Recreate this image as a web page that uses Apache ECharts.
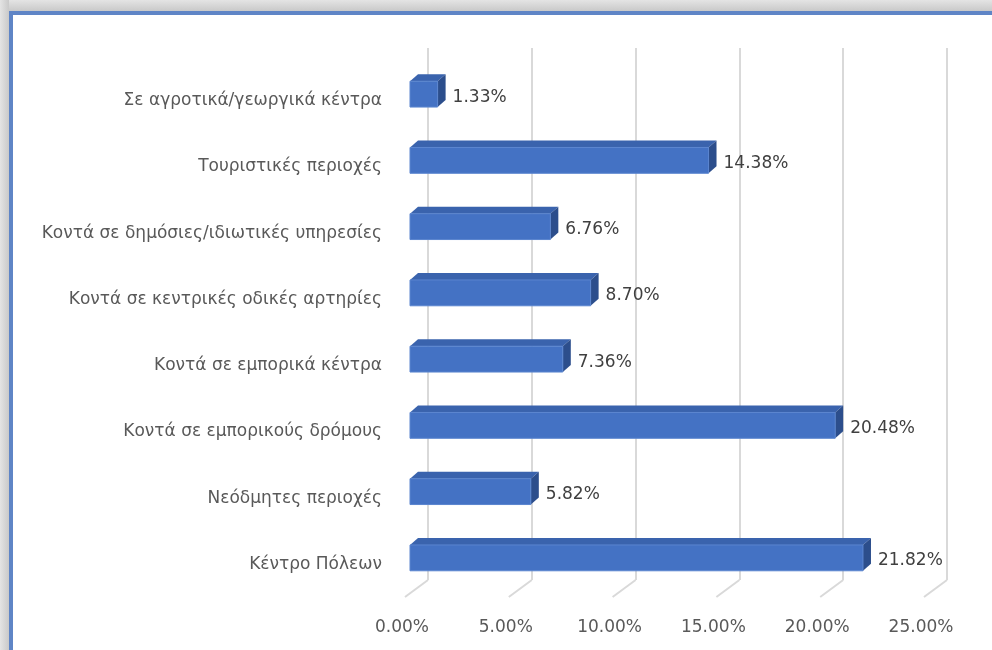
<!DOCTYPE html>
<html>
<head>
<meta charset="utf-8">
<script src="https://cdn.jsdelivr.net/npm/echarts@6/dist/echarts.min.js"></script>
<style>
html,body{margin:0;padding:0;background:#fff;}
#chart{width:992px;height:650px;}
</style>
</head>
<body>
<div id="chart"></div>
<script>
// ---- data ----
const categories = [
  'Σε αγροτικά/γεωργικά κέντρα',
  'Τουριστικές περιοχές',
  'Κοντά σε δημόσιες/ιδιωτικές υπηρεσίες',
  'Κοντά σε κεντρικές οδικές αρτηρίες',
  'Κοντά σε εμπορικά κέντρα',
  'Κοντά σε εμπορικούς δρόμους',
  'Νεόδμητες περιοχές',
  'Κέντρο Πόλεων'
];
const values = [1.33, 14.38, 6.76, 8.70, 7.36, 20.48, 5.82, 21.82];
const xTicks = [0, 5, 10, 15, 20, 25];

const FONT = '"DejaVu Sans", sans-serif';
const FS = 17;
const chart = echarts.init(document.getElementById('chart'));

const DX = 8, DY = 7; // bar depth
const barData = values.map((v, i) => [v, i]);

const option = {
  backgroundColor: '#fff',
  animation: false,
  graphic: [
    { type: 'rect', shape: { x: 0, y: 0, width: 992, height: 11 }, style: { fill: new echarts.graphic.LinearGradient(0,0,0,1,[{offset:0,color:'#e4e4e4'},{offset:1,color:'#c9c9c9'}]) }, silent: true },
    { type: 'rect', shape: { x: 0, y: 0, width: 9, height: 650 }, style: { fill: new echarts.graphic.LinearGradient(0,0,1,0,[{offset:0,color:'#e4e4e4'},{offset:1,color:'#c9c9c9'}]) }, silent: true },
    { type: 'rect', shape: { x: 9, y: 11, width: 983, height: 4 }, style: { fill: '#5f85c6' }, silent: true },
    { type: 'rect', shape: { x: 9, y: 11, width: 4, height: 639 }, style: { fill: '#5f85c6' }, silent: true }
  ],
  grid: [
    { left: 410, width: 519, top: 61, height: 530 },
    { left: 428, width: 519, top: 48, height: 532 }
  ],
  xAxis: [
    {
      gridIndex: 0, type: 'value', min: 0, max: 25, interval: 5,
      axisLine: { show: false }, axisTick: { show: false }, splitLine: { show: false },
      axisLabel: {
        margin: 28, color: '#595959', fontSize: FS, fontFamily: FONT,
        formatter: v => '{a|' + v.toFixed(2) + '%}',
        rich: { a: { color: '#595959', fontSize: FS, fontFamily: FONT, padding: [0, 16, 0, 0] } }
      }
    },
    {
      gridIndex: 1, type: 'value', min: 0, max: 25, interval: 5,
      axisLine: { show: false }, axisTick: { show: false }, axisLabel: { show: false },
      splitLine: { show: true, lineStyle: { color: '#d9d9d9', width: 2 } }
    }
  ],
  yAxis: [
    {
      gridIndex: 0, type: 'category', data: categories, inverse: true,
      axisLine: { show: false }, axisTick: { show: false }, splitLine: { show: false },
      axisLabel: {
        margin: 28, color: '#595959', fontSize: FS, fontFamily: FONT,
        formatter: v => '{a|' + v + '}',
        rich: { a: { color: '#595959', fontSize: FS, fontFamily: FONT, padding: [13, 0, 0, 0] } }
      }
    },
    {
      gridIndex: 1, type: 'value', min: 0, max: 1, show: false
    }
  ],
  series: [
    {
      type: 'custom',
      xAxisIndex: 1, yAxisIndex: 1,
      data: xTicks.map(t => [t, 0]),
      silent: true,
      renderItem: function (params, api) {
        const p = api.coord([api.value(0), 0]);
        return {
          type: 'line',
          shape: { x1: p[0], y1: p[1], x2: p[0] - 23, y2: p[1] + 17 },
          style: { stroke: '#d9d9d9', lineWidth: 2 }
        };
      }
    },
    {
      type: 'custom',
      xAxisIndex: 0, yAxisIndex: 0,
      data: barData,
      encode: { x: 0, y: 1 },
      renderItem: function (params, api) {
        const v = api.value(0), idx = api.value(1);
        const p0 = api.coord([0, idx]);
        const p1 = api.coord([v, idx]);
        const band = api.size([0, 1])[1];
        const h = band * 0.39;
        const x0 = p0[0], x1 = p1[0];
        const y0 = p0[1] - h / 2, y1 = y0 + h;
        return {
          type: 'group',
          children: [
            { type: 'polygon', shape: { points: [[x0, y0], [x1, y0], [x1 + DX, y0 - DY], [x0 + DX, y0 - DY]] },
              style: { fill: '#3a63ad' } },
            { type: 'polygon', shape: { points: [[x1, y0], [x1 + DX, y0 - DY], [x1 + DX, y1 - DY], [x1, y1]] },
              style: { fill: '#2c4e8c' } },
            { type: 'rect', shape: { x: x0, y: y0, width: x1 - x0, height: h },
              style: { fill: '#4472c4', stroke: '#5a85cf', lineWidth: 1 } },
            { type: 'text', x: x1 + DX + 7, y: p0[1] + 3,
              style: { text: v.toFixed(2) + '%', fill: '#404040', fontSize: FS, fontFamily: FONT,
                       align: 'left', verticalAlign: 'middle' } }
          ]
        };
      }
    }
  ]
};
chart.setOption(option);
</script>
</body>
</html>
